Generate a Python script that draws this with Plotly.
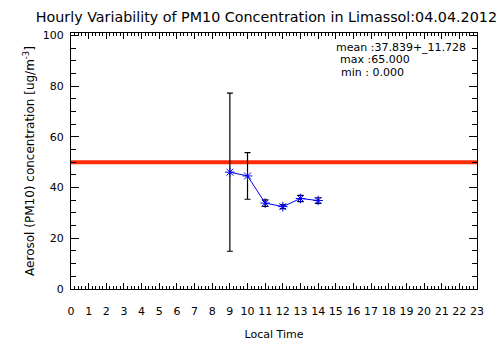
import plotly.graph_objects as go

hours = [9, 10, 11, 12, 13, 14]
pm10_mean = [46.1, 44.6, 33.9, 32.5, 35.7, 34.9]
pm10_std = [31.2, 9.2, 1.3, 0.8, 1.2, 1.1]
limit_value = 50
x_ticks = list(range(0, 24))
stats_lines = ["mean :37.839+_11.728", "max :65.000", "min : 0.000"]
title = "Hourly Variability of PM10 Concentration in Limassol:04.04.2012"

FONT = "DejaVu Sans"

fig = go.Figure()

fig.add_shape(type="line", xref="paper", x0=0, x1=1, yref="y", y0=limit_value, y1=limit_value,
              line=dict(color="#ff2a0a", width=4), layer="below")

fig.add_trace(go.Scatter(
    x=hours, y=pm10_mean, mode="lines+markers",
    line=dict(color="#0000ff", width=1),
    marker=dict(symbol="asterisk-open", size=8, color="#0000ff", line=dict(color="#0000ff", width=1)),
    error_y=dict(type="data", array=pm10_std, visible=True, color="black", thickness=1.2, width=3),
    showlegend=False,
))

# page body adds an 8px offset; margins compensate
fig.update_layout(
    width=504, height=361,
    margin=dict(l=63, r=35, t=25, b=80),
    paper_bgcolor="white", plot_bgcolor="white",
    title=dict(text=title, x=0.055, xanchor="left", y=0.99, yanchor="top",
               font=dict(family=FONT, size=14.3, color="black")),
    font=dict(family=FONT, size=11, color="black"),
)

fig.update_xaxes(
    range=[0, 23], tickvals=x_ticks, ticktext=[str(v) for v in x_ticks],
    showgrid=False, zeroline=False, showline=True, linecolor="black", linewidth=1, mirror="ticks",
    ticks="inside", ticklen=6, tickcolor="black", automargin=False,
    minor=dict(dtick=0.2, ticks="inside", ticklen=3, tickcolor="black", showgrid=False),
    ticklabelstandoff=12,
    tickfont=dict(family=FONT, size=11),
    title=dict(text="Local Time", font=dict(family=FONT, size=11), standoff=13),
)
fig.update_yaxes(
    range=[0, 101], tickvals=[0, 20, 40, 60, 80, 100],
    showgrid=False, zeroline=False, showline=True, linecolor="black", linewidth=1, mirror="ticks",
    ticks="inside", ticklen=8, tickcolor="black", automargin=False,
    minor=dict(dtick=5, ticks="inside", ticklen=5, tickcolor="black", showgrid=False),
    ticklabelstandoff=4,
    tickfont=dict(family=FONT, size=11),
    title=dict(text="Aerosol (PM10) concentration [ug/m<sup>-3</sup>]", font=dict(family=FONT, size=12), standoff=5),
)

ys = [0.945, 0.897, 0.847]
xs = [0.648, 0.658, 0.661]
for txt, yy, xx in zip(stats_lines, ys, xs):
    fig.add_annotation(text=txt, xref="paper", yref="paper", x=xx, y=yy, xanchor="left", yanchor="middle",
                       showarrow=False, font=dict(family=FONT, size=11, color="black"))

fig.write_html("out.html")
